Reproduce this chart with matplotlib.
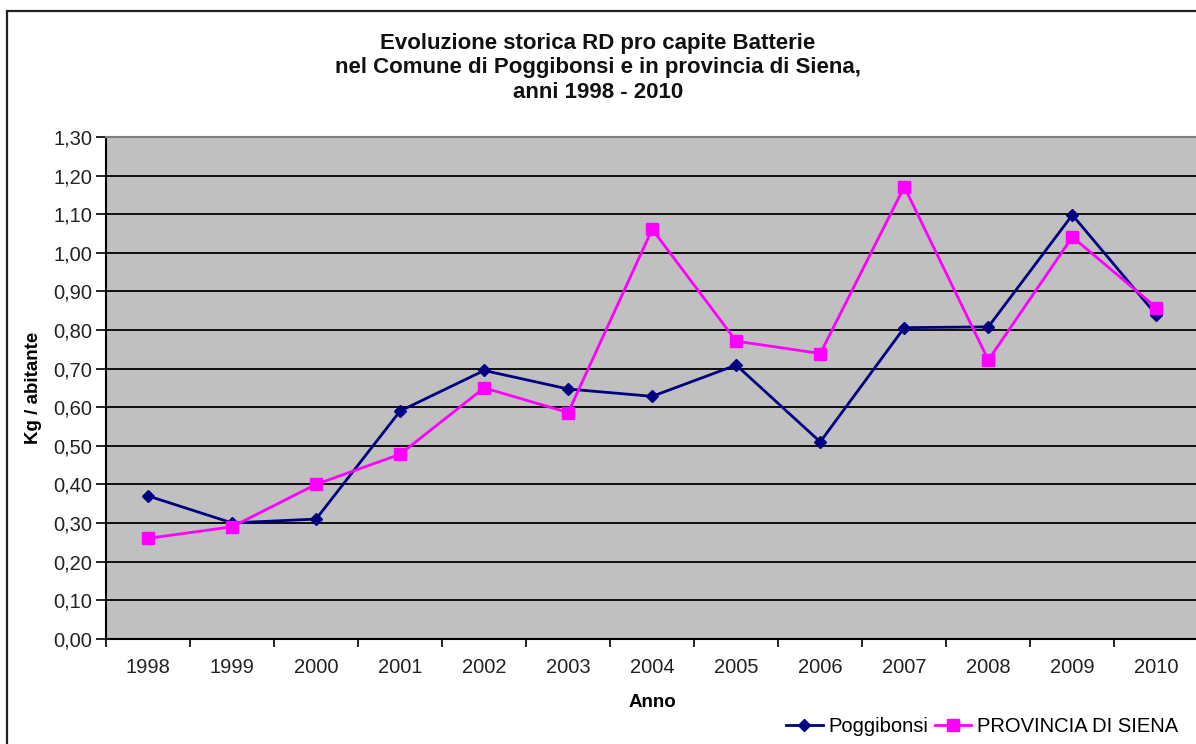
import matplotlib
matplotlib.use("Agg")
import matplotlib.pyplot as plt
from matplotlib.patches import Rectangle
from matplotlib.ticker import FixedLocator, FuncFormatter

plt.rcParams['font.family'] = ['Liberation Sans', 'DejaVu Sans']

# data
anni = ['1998', '1999', '2000', '2001', '2002', '2003', '2004',
        '2005', '2006', '2007', '2008', '2009', '2010']
poggibonsi = [0.37, 0.30, 0.31, 0.59, 0.695, 0.647, 0.628,
              0.709, 0.51, 0.806, 0.808, 1.098, 0.839]
provincia = [0.26, 0.29, 0.40, 0.478, 0.65, 0.586, 1.061,
             0.771, 0.739, 1.171, 0.722, 1.041, 0.858]
y_ticks = [i / 10 for i in range(14)]

fig = plt.figure(figsize=(11.96, 7.44), dpi=100)
fig.patch.set_facecolor('white')

# outer chart border (cut off on right and bottom like the scan)
fig.patches.append(Rectangle((7 / 1196, -0.01), 1.0, 0.985 + 0.01,
                             transform=fig.transFigure, fill=False,
                             edgecolor='#222222', linewidth=1.6))

ax = fig.add_axes([106 / 1196, 1 - 638.7 / 744, 1.0 - 106 / 1196 + 0.002,
                   (638.7 - 137) / 744])
ax.set_facecolor('#C0C0C0')

x = list(range(len(anni)))
ax.plot(x, poggibonsi, color='#000080', linewidth=2.0, marker='D',
        markersize=6.5, label='Poggibonsi', zorder=3)
ax.plot(x, provincia, color='#FF00FF', linewidth=2.0, marker='s',
        markersize=8.5, label='PROVINCIA DI SIENA', zorder=3)

ax.set_xlim(-0.5, len(anni) - 0.5)
ax.set_ylim(0, 1.30)

ax.yaxis.set_major_locator(FixedLocator(y_ticks))
ax.yaxis.set_major_formatter(FuncFormatter(lambda v, p: f"{v:.2f}".replace('.', ',')))
ax.grid(axis='y', color='black', linewidth=1.3, zorder=1)
ax.set_axisbelow(True)

ax.set_xticks(x)
ax.set_xticklabels(anni)
ax.set_xticks([i - 0.5 for i in range(len(anni) + 1)], minor=True)
ax.tick_params(axis='x', which='major', length=0, pad=14, labelsize=14.5, colors='#222222')
ax.tick_params(axis='x', which='minor', length=6, width=1.2, color='black', direction='out')
ax.tick_params(axis='y', length=7, width=1.2, labelsize=14.5, pad=3, colors='#222222')
ax.tick_params(axis='both', color='black')

for s in ['left', 'bottom']:
    ax.spines[s].set_color('black')
    ax.spines[s].set_linewidth(1.5)
ax.spines['top'].set_color('#808080')
ax.spines['top'].set_linewidth(1.5)
ax.spines['right'].set_visible(False)

ax.set_ylabel('Kg / abitante', fontsize=13.5, fontweight='bold', labelpad=8)
ax.set_xlabel('Anno', fontsize=13.5, fontweight='bold', labelpad=12)

fig.text(598 / 1196, 1 - 68 / 744,
         'Evoluzione storica RD pro capite Batterie\n'
         'nel Comune di Poggibonsi e in provincia di Siena,\n'
         'anni 1998 - 2010',
         ha='center', va='center', fontsize=16, fontweight='bold',
         linespacing=1.2, color='#111111')

fig.legend(loc='center right', bbox_to_anchor=(1186 / 1196, 1 - 727 / 744),
           ncol=2, frameon=False, fontsize=14.5, handlelength=1.8,
           handletextpad=0.3, columnspacing=0.3, borderaxespad=0)

fig.savefig('out.png', dpi=100)
